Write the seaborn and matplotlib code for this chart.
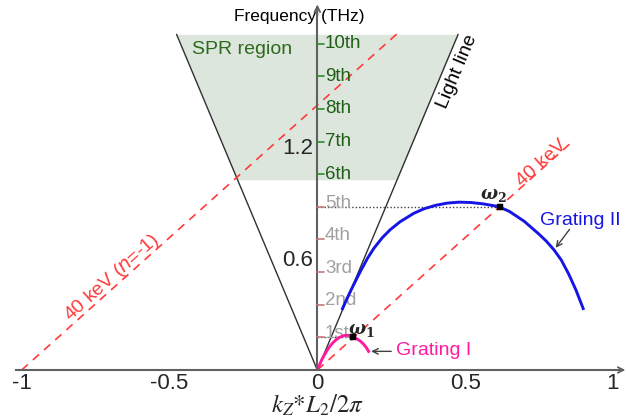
import numpy as np
import matplotlib
matplotlib.use("Agg")
import matplotlib.pyplot as plt
import seaborn as sns

# ---- data -------------------------------------------------------------
# Grating I dispersion (k_z*L2/2pi, THz)
g1_k = [0.0, 0.008, 0.016, 0.025, 0.035, 0.045, 0.055, 0.065, 0.075, 0.085,
        0.095, 0.105, 0.115, 0.125, 0.135, 0.145, 0.155, 0.165, 0.176]
g1_f = [0.0, 0.030, 0.058, 0.084, 0.110, 0.132, 0.150, 0.164, 0.175, 0.182,
        0.186, 0.186, 0.182, 0.175, 0.166, 0.155, 0.141, 0.122, 0.093]

# Grating II dispersion
g2_k = [0.083, 0.100, 0.120, 0.146, 0.170, 0.191, 0.220, 0.247, 0.280, 0.326,
        0.360, 0.400, 0.440, 0.480, 0.520, 0.560, 0.600, 0.619, 0.650, 0.700,
        0.750, 0.775, 0.800, 0.825, 0.850, 0.875, 0.901]
g2_f = [0.322, 0.382, 0.448, 0.530, 0.600, 0.652, 0.710, 0.753, 0.795, 0.840,
        0.864, 0.883, 0.895, 0.900, 0.898, 0.891, 0.880, 0.872, 0.850, 0.797,
        0.728, 0.690, 0.645, 0.590, 0.515, 0.428, 0.322]

# harmonics of the fundamental frequency
harmonic_step = 0.175
harmonic_labels = ["1st", "2nd", "3rd", "4th", "5th",
                   "6th", "7th", "8th", "9th", "10th"]

light_slope = 3.78     # light line
beam_slope = 1.42      # 40 keV electron beam line
beam_right_end = 0.86
beam_left_end = 0.27

omega_names = ["1", "2"]
omega_k = [0.122, 0.619]
omega_f = [0.175, 0.875]

spr_bottom, spr_top = 1.02, 1.80

x_ticks = [-1, -0.5, 0, 0.5, 1]
x_tick_labels = ["-1", "-0.5", "0", "0.5", "1"]
y_ticks = [0.2, 0.4, 0.6, 0.8, 1.0, 1.2, 1.4, 1.6]
y_tick_labels = ["", "", "0.6", "", "", "1.2", "", ""]

# ---- style ------------------------------------------------------------
sns.set_style("white")
plt.rcParams["font.family"] = ["Liberation Sans", "DejaVu Sans"]

axis_col = "#606060"
green = "#1f5e17"
gray_txt = "#a0a0a0"
red = "#ff3b3b"
blue = "#1515e6"
pink = "#ff1aa0"

fig = plt.figure(figsize=(6.26, 4.18), dpi=100)
ax = fig.add_axes([0, 0, 1, 1])
ax.set_xlim(-1.0733, 1.0440)
ax.set_ylim(-0.2574, 1.984)
ax.set_facecolor("white")

# axes through the origin
for side in ["top", "right"]:
    ax.spines[side].set_visible(False)
ax.spines["left"].set_position(("data", 0))
ax.spines["bottom"].set_position(("data", 0))
ax.spines["left"].set_bounds(0, 1.93)
ax.spines["bottom"].set_bounds(-1.02, 1.02)
for side in ["left", "bottom"]:
    ax.spines[side].set_color(axis_col)
    ax.spines[side].set_linewidth(1.5)
    ax.spines[side].set_zorder(4)

ax.annotate("", xy=(1.042, 0), xytext=(1.0, 0),
            arrowprops=dict(arrowstyle="->", color=axis_col, lw=1.3,
                            shrinkA=0, shrinkB=0), zorder=4)
ax.annotate("", xy=(0, 1.96), xytext=(0, 1.9),
            arrowprops=dict(arrowstyle="->", color=axis_col, lw=1.3,
                            shrinkA=0, shrinkB=0), zorder=4)

ax.set_xticks(x_ticks)
ax.set_xticklabels(x_tick_labels)
ax.set_yticks(y_ticks)
ax.set_yticklabels(y_tick_labels)
ax.tick_params(axis="x", direction="in", length=4, width=1, color=axis_col,
               labelsize=16, pad=2)
ax.tick_params(axis="y", direction="out", length=3, width=1, color=axis_col,
               labelsize=16, pad=0)
ax.grid(False)

# SPR region between the light lines
yb = [spr_bottom, spr_top]
ax.fill_betweenx(yb, [-y / light_slope for y in yb], [y / light_slope for y in yb],
                 color="#dce6dc", lw=0, zorder=0)

# light lines
top_k = spr_top / light_slope
ax.plot([-top_k, 0, top_k], [spr_top, 0, spr_top], color="#303030", lw=1.0, zorder=2)

# electron beam lines (n = 0 and n = -1)
ax.plot([0, beam_right_end], [0, beam_slope * beam_right_end], color=red,
        lw=1.2, dashes=(5, 4), zorder=2)
ax.plot([-1, beam_left_end], [0, beam_slope * (beam_left_end + 1)], color=red,
        lw=1.2, dashes=(5, 4), zorder=2)

# harmonic ticks and labels
for i, lab in enumerate(harmonic_labels):
    f = harmonic_step * (i + 1)
    if i >= 5:
        tcol, lcol, dy = "#2e8b2e", green, 0.0
    else:
        tcol, lcol, dy = "#c87878", gray_txt, 0.02
    ax.plot([0, 0.021], [f, f], color=tcol, lw=1.2, zorder=5)
    ax.text(0.026, f + dy, lab, color=lcol, fontsize=13.5, ha="left",
            va="center", zorder=3)

# operating points
for k, f in zip(omega_k, omega_f):
    ax.plot([0, k], [f, f], color="#404040", lw=1.0, ls=(0, (1, 1.5)), zorder=2)

line_kw = dict(lw=2.1, sort=False, estimator=None, zorder=3,
               solid_capstyle="butt", solid_joinstyle="round")
sns.lineplot(x=g1_k, y=g1_f, color=pink, ax=ax, **line_kw)
sns.lineplot(x=g2_k, y=g2_f, color=blue, ax=ax, **line_kw)
sns.scatterplot(x=omega_k, y=omega_f, marker="s", s=18, color="black",
                edgecolor="black", ax=ax, zorder=6)

ax.text(0.150, 0.212, r"$\boldsymbol{\omega}_{\mathbf{1}}$", fontsize=13,
        ha="center", va="center", math_fontfamily="dejavuserif", zorder=6)
ax.text(0.597, 0.936, r"$\boldsymbol{\omega}_{\mathbf{2}}$", fontsize=13,
        ha="center", va="center", math_fontfamily="dejavuserif", zorder=6)

# annotations
ax.text(-0.062, 1.893, "Frequency (THz)", fontsize=12.5, ha="center",
        va="center", color="black")
ax.text(-0.256, 1.72, "SPR region", fontsize=14, ha="center", va="center",
        color="#2d6a1d")
ax.text(0.473, 1.60, "Light line", fontsize=14, rotation=67.2, ha="center",
        va="center", color="black")
ax.text(0.760, 1.110, "40 keV", fontsize=14, rotation=41.9, ha="center",
        va="center", color=red)
ax.text(-0.695, 0.496, r"40 keV ($n$=-1)", fontsize=14, rotation=41.9,
        ha="center", va="center", color=red, math_fontfamily="dejavusans")

ax.text(0.265, 0.104, "Grating I", fontsize=14, ha="left", va="center",
        color=pink)
ax.annotate("", xy=(0.182, 0.100), xytext=(0.250, 0.100),
            arrowprops=dict(arrowstyle="->", color="#404040", lw=1.0,
                            shrinkA=0, shrinkB=0))
ax.text(0.889, 0.800, "Grating II", fontsize=14, ha="center", va="center",
        color=blue)
ax.annotate("", xy=(0.806, 0.655), xytext=(0.853, 0.754),
            arrowprops=dict(arrowstyle="->", color="#404040", lw=1.0,
                            shrinkA=0, shrinkB=0))

ax.text(0.0, -0.19, r"$k_{Z}{*}L_{2}/2\pi$", fontsize=18, ha="center",
        va="center", math_fontfamily="stix")

fig.savefig("out.png", dpi=100)
